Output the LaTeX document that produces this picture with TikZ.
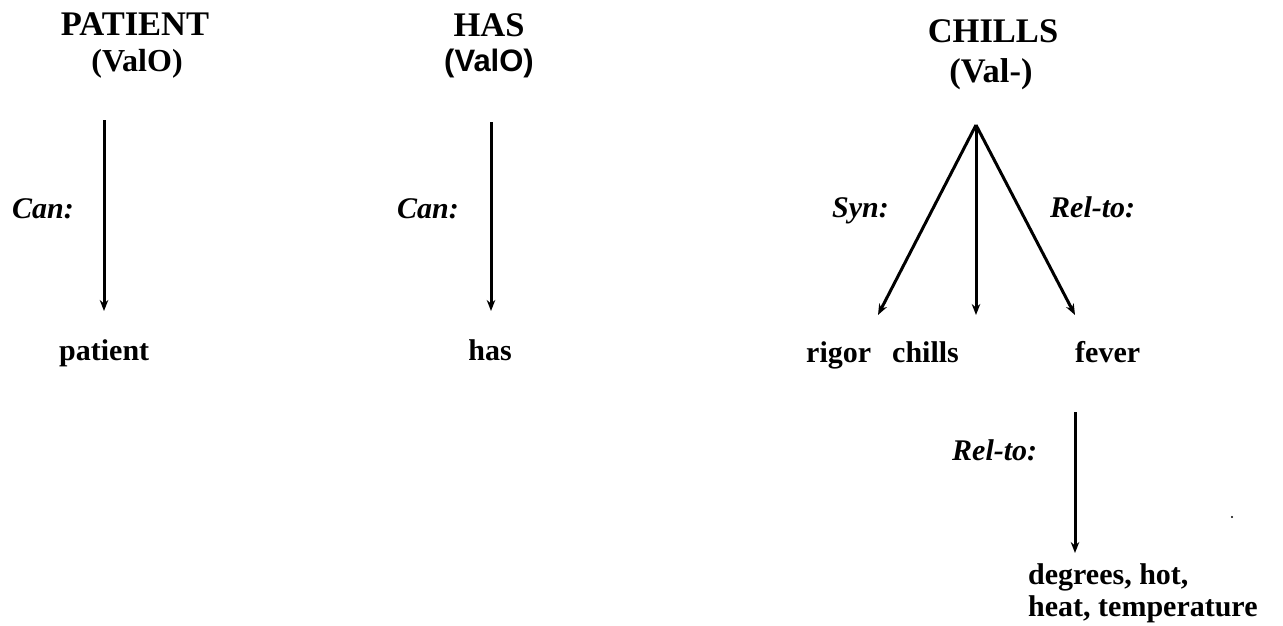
\documentclass[tikz,border=0pt]{standalone}
\usepackage{fontspec}
\setmainfont{Liberation Serif}
\newfontfamily\arialfam{Liberation Sans}
\usetikzlibrary{arrows.meta}
\tikzset{
  head/.style={inner sep=0pt, anchor=base, font=\fontsize{34.5}{36}\selectfont\bfseries},
  subhead/.style={inner sep=0pt, anchor=base, font=\fontsize{32}{34}\selectfont\bfseries},
  term/.style={inner sep=0pt, anchor=base west, font=\fontsize{30}{32}\selectfont\bfseries},
  rel/.style={inner sep=0pt, anchor=base west, font=\fontsize{30}{32}\selectfont\bfseries\itshape},
  link/.style={line width=3pt, -{Stealth[length=11pt,width=8.5pt]}},
}
\begin{document}
\begin{tikzpicture}[x=1pt,y=-1pt]
\useasboundingbox (0,0) rectangle (1283,626);

% concept headers
\node[head] (patH) at (135,36) {PATIENT};
\node[subhead] (patV) at (137,71) {(ValO)};
\node[head] (hasH) at (489,37) {HAS};
\node[subhead, font=\fontsize{31}{33}\selectfont\bfseries\arialfam] (hasV) at (489,72) {(ValO)};
\node[head] (chH) at (993,43) {CHILLS};
\node[head] (chV) at (991,83) {(Val-)};

% arrow end points
\coordinate (patTop) at (104,120);
\coordinate (patTip) at (104,311);
\coordinate (hasTop) at (491,122);
\coordinate (hasTip) at (491,311);
\coordinate (chTop) at (976,125);
\coordinate (synTip) at (878,315);
\coordinate (canTip) at (976,315);
\coordinate (relTip) at (1075,315);
\coordinate (fevTop) at (1075,412);
\coordinate (fevTip) at (1075,553);

\draw[link] (patTop) -- (patTip);
\draw[link] (hasTop) -- (hasTip);
\draw[link] (chTop) -- (synTip);
\draw[link] (chTop) -- (canTip);
\draw[link] (chTop) -- (relTip);
\draw[link] (fevTop) -- (fevTip);

% relation labels
\node[rel] (canA) at (12,218) {Can:};
\node[rel] (canB) at (397,218) {Can:};
\node[rel] (syn) at (832,217) {Syn:};
\node[rel] (relA) at (1050,217) {Rel-to:};
\node[rel] (relB) at (952,460) {Rel-to:};

% lexical terms
\node[term] (patient) at (59,360) {patient};
\node[term, anchor=base] (has) at (490,360) {has};
\node[term] (rigor) at (806,362) {rigor};
\node[term] (chills) at (892,362) {chills};
\node[term] (fever) at (1075,362) {fever};
% base anchor of a two-line node sits on its last line
\node[term, align=left] (deg) at (1028,616) {degrees, hot,\\heat, temperature};

\fill (1232,517) circle (1.1pt);
\end{tikzpicture}
\end{document}
